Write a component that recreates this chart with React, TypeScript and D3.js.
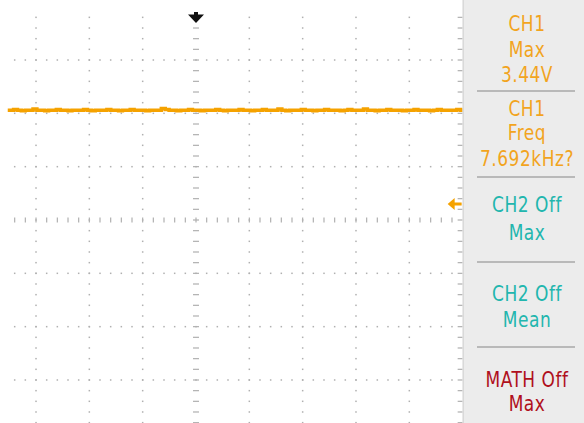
import React from "react";
import * as d3 from "d3";

// CH1 trace, in divisions above centre, sampled left to right across the visible screen
const traceLevels = [
  2.06, 2.06, 2.07, 2.06, 2.05, 2.06, 2.06, 2.08, 2.06, 2.06, 2.05, 2.06, 2.06, 2.07, 2.06,
  2.06, 2.05, 2.06, 2.06, 2.06, 2.07, 2.06, 2.05, 2.06, 2.06, 2.06, 2.07, 2.06, 2.06, 2.05,
  2.06, 2.06, 2.07, 2.06, 2.06, 2.06, 2.05, 2.06, 2.06, 2.06, 2.09, 2.07, 2.06, 2.06, 2.05,
  2.06, 2.06, 2.07, 2.06, 2.06, 2.05, 2.06, 2.06, 2.06, 2.07, 2.06, 2.05, 2.06, 2.06, 2.06,
  2.07, 2.06, 2.06, 2.05, 2.06, 2.06, 2.07, 2.06, 2.06, 2.06, 2.08, 2.06, 2.05, 2.06, 2.06,
  2.06, 2.07, 2.06, 2.06, 2.05, 2.06, 2.06, 2.07, 2.06, 2.06, 2.06, 2.05, 2.06, 2.07, 2.06,
  2.06, 2.06, 2.08, 2.06, 2.06, 2.05, 2.06, 2.06, 2.07, 2.06, 2.06, 2.06, 2.05, 2.06, 2.06,
  2.07, 2.06, 2.06, 2.06, 2.05, 2.06, 2.07, 2.06, 2.06, 2.06, 2.06, 2.07, 2.06,
];
const traceStart = -3.53; // divisions
const traceEnd = 5;
const triggerLevel = 0.3; // divisions
const triggerTime = 0;

const majorX = [-4, -3, -2, -1, 1, 2, 3, 4];
const majorY = [-3, -2, -1, 1, 2, 3];

// measurement panel
const panelBlocks = [
  { lines: ["CH1", "Max", "3.44V"], color: "#f2a41e", baselines: [31, 57, 82] },
  { lines: ["CH1", "Freq", "7.692kHz?"], color: "#f2a41e", baselines: [116, 140, 166] },
  { lines: ["CH2 Off", "Max"], color: "#22b6ae", baselines: [212, 240] },
  { lines: ["CH2 Off", "Mean"], color: "#22b6ae", baselines: [301, 327] },
  { lines: ["MATH Off", "Max"], color: "#b0101c", baselines: [387, 411] },
];
const separators = [91, 177, 262, 347];

const W = 584;
const H = 423;
const DIV = 53.33;
const CX = 196;
const CY = 220;
const SX = 0.86; // horizontal squeeze of the panel font

export default function App() {
  const x = d3.scaleLinear().domain([-5, 5]).range([CX - 5 * DIV, CX + 5 * DIV]);
  const y = d3.scaleLinear().domain([-4, 4]).range([CY + 4 * DIV, CY - 4 * DIV]);
  const minor = d3.range(-19, 20).map((i) => i / 5);
  const minorX = d3.range(-25, 25).map((i) => i / 5).filter((t) => x(t) > 10);

  const idx = d3.scaleLinear().domain([0, traceLevels.length - 1]).range([traceStart, traceEnd]);
  const line = d3
    .line<number>()
    .x((_, i) => x(idx(i)))
    .y((d) => y(d))
    .curve(d3.curveStep);

  const grey = "#b0b0b0";
  const right = x(5);

  return (
    <svg
      width={W}
      height={H}
      style={{ position: "absolute", left: 0, top: 0, background: "#fff" }}
      fontFamily="'DejaVu Sans Condensed', 'DejaVu Sans', sans-serif"
    >
      <rect width={W} height={H} fill="#fff" />
      {/* graticule dots */}
      <g fill={grey}>
        {majorX.map((m) =>
          minor.map((t) => (
            <rect key={`v${m}_${t}`} x={x(m) - 0.75} y={y(t) - 0.75} width={1.5} height={1.5} />
          ))
        )}
        {majorY.map((m) =>
          minorX.map((t) => (
            <rect key={`h${m}_${t}`} x={x(t) - 0.75} y={y(m) - 0.75} width={1.5} height={1.5} />
          ))
        )}
        {/* centre lines with ticks */}
        {minorX.map((t) => (
          <rect key={`cx${t}`} x={x(t) - 0.6} y={CY - 2.5} width={1.2} height={5} />
        ))}
        {minor.map((t) => (
          <rect key={`cy${t}`} x={CX - 3} y={y(t) - 0.6} width={6} height={1.2} />
        ))}
        {minor.map((t) => (
          <rect key={`ry${t}`} x={right - 5} y={y(t) - 0.6} width={5} height={1.2} />
        ))}
      </g>

      {/* trace */}
      <path
        d={line(traceLevels) || ""}
        fill="none"
        stroke="#f5a200"
        strokeWidth={3.5}
      />

      {/* trigger position marker */}
      <path
        transform={`translate(${x(triggerTime)},12)`}
        d="M-2,0 H2 V2.5 H8 L0,11 L-8,2.5 H-2 Z"
        fill="#111"
      />
      {/* trigger level marker */}
      <path
        transform={`translate(${right - 1},${y(triggerLevel)})`}
        d="M-14,0 L-7,-6 V-1.6 H0 V1.6 H-7 V6 Z"
        fill="#f5a200"
      />

      {/* measurement panel */}
      <rect x={right} y={0} width={W - right} height={H} fill="#ececec" />
      <line x1={right + 0.5} x2={right + 0.5} y1={0} y2={H} stroke="#cfcfcf" />
      {separators.map((s) => (
        <line key={s} x1={477} x2={575} y1={s} y2={s} stroke="#a9a9a9" strokeWidth={1.5} />
      ))}
      <g transform={`scale(${SX},1)`}>
        {panelBlocks.map((b, i) =>
          b.lines.map((t, j) => (
            <text
              key={`${i}_${j}`}
              x={527 / SX}
              y={b.baselines[j]}
              textAnchor="middle"
              fontSize={22}
              letterSpacing={0.6}
              fill={b.color}
            >
              {t}
            </text>
          ))
        )}
      </g>
    </svg>
  );
}
